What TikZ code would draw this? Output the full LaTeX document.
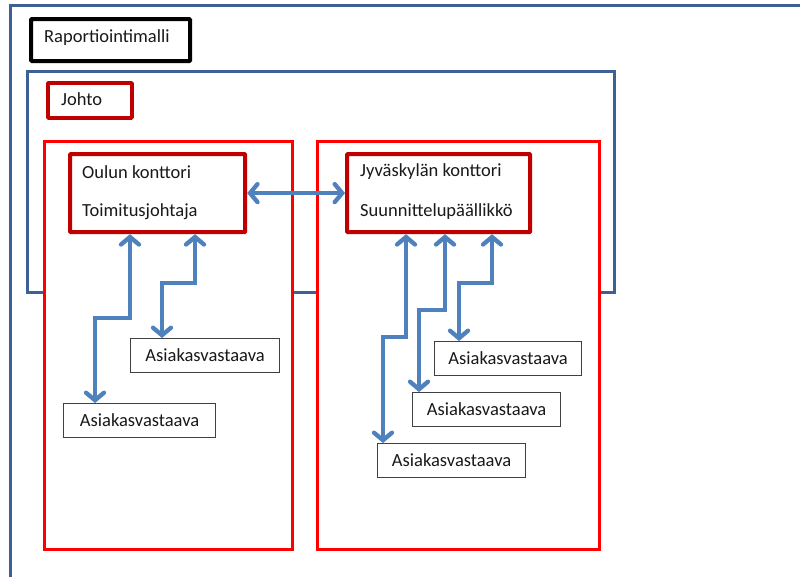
\documentclass[tikz,border=0pt]{standalone}
\usepackage{fontspec}
\setmainfont{Carlito}
\usetikzlibrary{arrows.meta}
\definecolor{frameblue}{HTML}{3D6194}
\definecolor{darkred}{HTML}{C00000}
\definecolor{brightred}{HTML}{FF0000}
\definecolor{linkblue}{HTML}{4F81BD}
\tikzset{
  lbl/.style={font=\fontsize{18.5}{20}\selectfont, inner sep=0pt, anchor=west, text=black!90},
  areabox/.style={draw=brightred, line width=3.2pt, fill=white, anchor=north west, inner sep=0pt},
  officebox/.style={draw=darkred, line width=4.2pt, fill=white, anchor=north west, inner sep=0pt, rounded corners=0.8pt},
  rolebox/.style={draw=black!75, line width=1.2pt, fill=white, anchor=north west, inner sep=0pt,
    font=\fontsize{18.5}{20}\selectfont, text=black!90},
  biarrow/.style={draw=linkblue, line width=4.3pt,
    {Straight Barb[length=7.5pt,width=18pt,line cap=round]}-{Straight Barb[length=7.5pt,width=18pt,line cap=round]}}
}
\begin{document}
\begin{tikzpicture}[x=1pt,y=-1pt]
\useasboundingbox (0,0) rectangle (800,576);
\clip (0,0) rectangle (800,576);
\fill[white] (0,0) rectangle (800,576);

% outer frame, running off the page to the right and below
\draw[frameblue, line width=3pt] (10,5) rectangle (830,600);

% title box
\node[draw=black, line width=4.2pt, rounded corners=1pt, anchor=north west, inner sep=0pt,
  minimum width=159pt, minimum height=42pt] (title) at (29,17) {};
\node[lbl] (titletext) at (44,38) {Raportiointimalli};

% management frame
\draw[frameblue, line width=3pt] (27,71) rectangle (614,292);
\node[draw=darkred, line width=3.8pt, rounded corners=0.8pt, anchor=north west, inner sep=0pt,
  minimum width=84pt, minimum height=35pt] (johto) at (46,81) {};
\node[lbl] (johtotext) at (61,99) {Johto};

% office areas
\node[areabox, minimum width=248pt, minimum height=408pt] (leftarea) at (43,140) {};
\node[areabox, minimum width=282pt, minimum height=408pt] (rightarea) at (316,140) {};

% office heads
\node[officebox, minimum width=175pt, minimum height=78pt] (oulu) at (68,152) {};
\node[lbl] (oulu1) at (82,172) {Oulun konttori};
\node[lbl] (oulu2) at (82,212) {Toimitusjohtaja};

\node[officebox, minimum width=183pt, minimum height=78pt] (jkl) at (345,152) {};
\node[lbl] (jkl1) at (360,172) {Jyväskylän konttori};
\node[lbl] (jkl2) at (360,212) {Suunnittelupäällikkö};

% account managers
\node[rolebox, minimum width=149pt, minimum height=34pt] (la1) at (130,338) {Asiakasvastaava};
\node[rolebox, minimum width=152pt, minimum height=34pt] (la2) at (63,403) {Asiakasvastaava};
\node[rolebox, minimum width=147pt, minimum height=34pt] (ra1) at (434,341) {Asiakasvastaava};
\node[rolebox, minimum width=148pt, minimum height=34pt] (ra2) at (412,392) {Asiakasvastaava};
\node[rolebox, minimum width=148pt, minimum height=34pt] (ra3) at (377,443) {Asiakasvastaava};

% routing columns
\coordinate (c1) at (130,0);
\coordinate (c2) at (95,0);
\coordinate (c3) at (195,0);
\coordinate (c4) at (162,0);
\coordinate (c5) at (406,0);
\coordinate (c6) at (383,0);
\coordinate (c7) at (445,0);
\coordinate (c8) at (419,0);
\coordinate (c9) at (492,0);
\coordinate (c10) at (459,0);

% links
\draw[biarrow] (oulu.east) -- (jkl.west);

\draw[biarrow] (oulu.south -| c1) -- (130,318) -- (95,318) -- (la2.north -| c2);
\draw[biarrow] (oulu.south -| c3) -- (195,283) -- (162,283) -- (la1.north -| c4);

\draw[biarrow] (jkl.south -| c5) -- (406,337) -- (383,337) -- (ra3.north -| c6);
\draw[biarrow] (jkl.south -| c7) -- (445,310) -- (419,310) -- (ra2.north -| c8);
\draw[biarrow] (jkl.south -| c9) -- (492,283) -- (459,283) -- (ra1.north -| c10);
\end{tikzpicture}
\end{document}
